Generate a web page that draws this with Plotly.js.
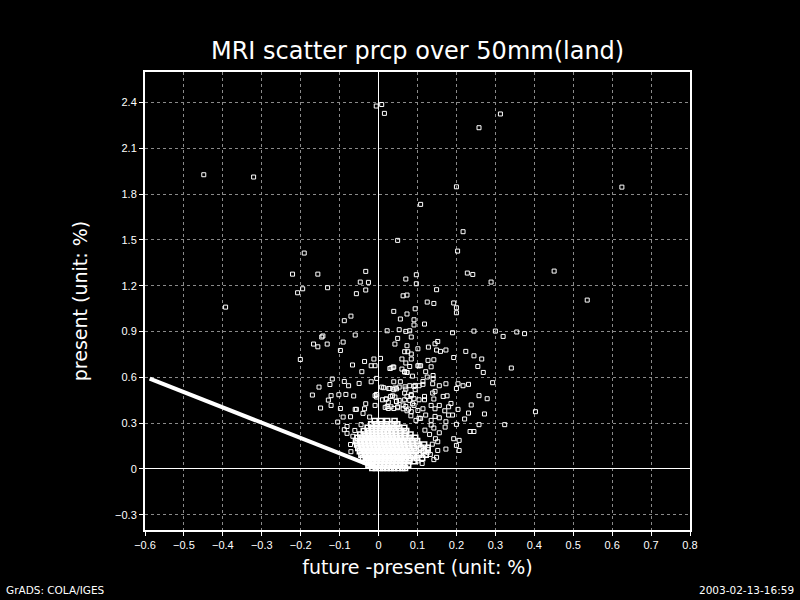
<!DOCTYPE html>
<html>
<head>
<meta charset="utf-8">
<script src="https://cdn.plot.ly/plotly-3.0.1.min.js"></script>
<style>html,body{margin:0;padding:0;background:#000;}#chart{width:800px;height:600px;}</style>
</head>
<body>
<div id="chart"></div>
<script>
// Scattered points (future - present, present)
var scatterX = [-0.449,-0.321,-0.006,0.008,0.015,0.049,-0.191,0.313,0.258,0.200,0.625,0.108,0.217,0.203,
-0.221,-0.156,-0.033,-0.047,-0.026,-0.208,-0.195,-0.131,-0.033,-0.057,-0.393,0.070,0.097,0.063,0.073,0.039,0.073,0.094,0.056,0.091,-0.088,-0.071,-0.060,0.022,0.053,0.070,0.080,0.091,-0.146,-0.143,-0.167,-0.156,-0.132,-0.091,-0.098,-0.201,0.049,0.073,0.067,0.075,-0.067,-0.036,-0.019,-0.009,-0.012,0.005,-0.043,-0.119,-0.088,-0.077,-0.050,-0.125,-0.153,-0.170,-0.102,-0.084,-0.064,-0.122,-0.129,-0.122,-0.149,-0.098,-0.091,-0.105,-0.060,-0.081,-0.071,-0.019,-0.005,
0.228,0.242,0.451,0.289,0.097,0.149,0.536,0.125,0.142,0.193,0.200,0.200,0.118,0.190,0.245,0.300,0.320,0.355,0.375,0.084,0.042,0.101,0.128,0.145,0.152,0.149,0.159,0.173,0.084,0.224,0.245,0.265,0.193,0.084,0.255,0.269,0.341,0.032,0.039,0.135,0.127,0.142,0.104,0.293,0.204,0.217,0.231,0.173,0.156,0.200,0.258,0.279,0.238,0.204,0.403,0.272,0.231,0.324,0.258,0.221,0.200,0.235,0.245,0.207,0.193,0.200,0.207,0.173,0.133,0.128,0.101,0.180,0.180,0.170,0.166,0.176,0.186,0.156,0.145,0.135,0.171,0.156,0.152,
0.060,0.070,0.067,0.073,0.087,0.101,0.108,0.121,0.125,0.140,0.140,0.114,0.114,0.139,0.104,0.080,0.091,0.068,0.039,0.046,0.029,0.008,-0.009,-0.005,0.010,0.019,0.031,0.036,0.046,0.053,0.067,0.080,0.084,0.091,0.104,0.118,0.118,0.139,0.145,0.135,0.142,0.022,0.025,0.039,0.049,0.063,0.070,0.077,0.084,0.101,0.114,0.121,0.145,0.156,0.173,0.190,0.108,0.135,0.142,
0.029,0.037,0.060,0.067,0.073,0.080,0.039,0.056,0.013,0.026,0.042,0.053,0.070,0.094,0.094,-0.005,-0.005,0.020,0.025,0.042,0.046,0.067,0.073,0.084,0.091,0.017,0.032,0.049,0.063,0.073,0.087,-0.033,-0.036,-0.009,-0.040,-0.023,-0.057,-0.072,-0.081,-0.088,
0.138,0.146,0.152,0.131,0.142,0.127,0.149,0.112,0.119,-0.066,-0.072,-0.061,-0.045,0.096,0.104,0.083];
var scatterY = [1.927,1.912,2.377,2.387,2.329,1.497,1.414,2.325,2.235,1.848,1.846,1.733,1.554,1.427,
1.276,1.276,1.294,1.224,1.222,1.154,1.180,1.187,1.172,1.148,1.060,1.244,1.272,1.134,1.139,1.032,1.015,1.049,0.982,0.977,0.971,1.001,0.877,0.905,0.912,0.901,0.905,0.943,0.864,0.871,0.818,0.800,0.818,0.831,0.776,0.717,0.855,0.807,0.768,0.768,0.681,0.704,0.676,0.676,0.720,0.724,0.637,0.589,0.573,0.545,0.560,0.553,0.536,0.484,0.486,0.488,0.478,0.480,0.451,0.416,0.399,0.396,0.340,0.307,0.390,0.233,0.113,0.571,0.593,
1.283,1.274,1.296,1.224,1.213,1.174,1.106,1.093,1.084,1.087,1.056,1.023,0.949,0.892,0.903,0.903,0.868,0.897,0.886,0.864,0.818,0.787,0.798,0.820,0.835,0.779,0.770,0.779,0.753,0.770,0.741,0.720,0.730,0.720,0.671,0.632,0.661,0.661,0.667,0.669,0.711,0.715,0.676,0.565,0.558,0.545,0.554,0.558,0.545,0.527,0.480,0.460,0.419,0.390,0.375,0.360,0.366,0.290,0.290,0.327,0.292,0.245,0.245,0.187,0.198,0.154,0.121,0.130,0.095,0.126,0.052,0.407,0.353,0.381,0.475,0.479,0.429,0.416,0.394,0.318,0.274,0.237,0.178,
0.720,0.694,0.637,0.632,0.608,0.676,0.676,0.637,0.602,0.612,0.591,0.573,0.554,0.558,0.545,0.545,0.541,0.538,0.519,0.525,0.527,0.536,0.480,0.486,0.453,0.458,0.475,0.479,0.442,0.449,0.453,0.449,0.480,0.416,0.453,0.475,0.453,0.497,0.508,0.416,0.458,0.409,0.396,0.396,0.401,0.419,0.409,0.392,0.375,0.383,0.394,0.353,0.344,0.335,0.309,0.353,0.331,0.288,0.268,
0.658,0.667,0.654,0.635,0.632,0.671,0.571,0.571,0.532,0.527,0.530,0.536,0.523,0.547,0.519,0.488,0.471,0.458,0.438,0.471,0.442,0.497,0.475,0.488,0.460,0.403,0.407,0.407,0.394,0.381,0.427,0.427,0.394,0.416,0.364,0.340,0.390,0.342,0.278,0.257,
0.162,0.198,0.121,0.226,0.061,0.110,0.076,0.036,0.254,0.214,0.160,0.252,0.290,0.318,0.332,0.348];

// Dense cluster near the origin, read row by row
var clusterRowY = [0.006,0.028,0.050,0.072,0.094,0.116,0.138,0.160,0.182,0.204,0.226,0.248,0.270,0.292,0.314];
var clusterRowX = [
 [-0.016,-0.007,0.003,0.012,0.021,0.031,0.040,0.050,0.061,0.068],
 [-0.026,-0.016,-0.006,0.004,0.014,0.024,0.034,0.044,0.055,0.064,0.076],
 [-0.033,-0.024,-0.014,-0.004,0.006,0.016,0.026,0.036,0.046,0.056,0.066,0.078,0.092],
 [-0.040,-0.030,-0.020,-0.010,0.000,0.010,0.020,0.030,0.040,0.050,0.060,0.070,0.081,0.098,0.112],
 [-0.044,-0.034,-0.024,-0.014,-0.004,0.006,0.016,0.026,0.036,0.046,0.056,0.066,0.076,0.088,0.104,0.121],
 [-0.048,-0.038,-0.028,-0.018,-0.008,0.002,0.012,0.022,0.032,0.042,0.052,0.062,0.072,0.083,0.096,0.116],
 [-0.052,-0.042,-0.032,-0.022,-0.012,-0.002,0.008,0.018,0.028,0.038,0.048,0.058,0.068,0.079,0.091,0.109,0.126],
 [-0.055,-0.045,-0.035,-0.025,-0.015,-0.005,0.005,0.015,0.025,0.035,0.045,0.055,0.065,0.076,0.087,0.101,0.117],
 [-0.058,-0.047,-0.037,-0.027,-0.017,-0.007,0.003,0.013,0.023,0.033,0.043,0.053,0.063,0.074,0.086,0.099],
 [-0.054,-0.043,-0.033,-0.023,-0.013,-0.003,0.007,0.017,0.027,0.037,0.047,0.057,0.068,0.080,0.094],
 [-0.047,-0.036,-0.026,-0.016,-0.006,0.004,0.014,0.024,0.034,0.044,0.055,0.067,0.082],
 [-0.038,-0.027,-0.017,-0.007,0.003,0.013,0.023,0.033,0.044,0.056,0.071],
 [-0.028,-0.017,-0.006,0.005,0.016,0.027,0.039,0.052,0.066],
 [-0.019,-0.006,0.008,0.021,0.034,0.048],
 [-0.010,0.006,0.022,0.041]
];

// Points where future is zero (they line up on present = -(future-present))
var edgeX = [-0.588,-0.55,-0.50,-0.45,-0.40,-0.35,-0.30,-0.25,-0.20,-0.15,-0.10,-0.05,-0.02,0.0];
var edgeY = [0.591,0.553,0.503,0.452,0.402,0.352,0.302,0.252,0.201,0.151,0.101,0.051,0.021,0.002];

var titleText = "MRI scatter prcp over 50mm(land)";
var xTitle = "future -present (unit: %)";
var yTitle = "present (unit: %)";
var footLeft = "GrADS: COLA/IGES";
var footRight = "2003-02-13-16:59";

var cx = [], cy = [];
for (var i = 0; i < clusterRowY.length; i++) {
  for (var j = 0; j < clusterRowX[i].length; j++) {
    cx.push(clusterRowX[i][j]);
    cy.push(clusterRowY[i]);
  }
}

var mk = {symbol: 'square-open', size: 4, color: '#ffffff', line: {color: '#ffffff', width: 1}};
var traces = [
  {x: edgeX, y: edgeY, type: 'scatter', mode: 'lines', line: {color: '#ffffff', width: 4}, hoverinfo: 'skip'},
  {x: cx, y: cy, type: 'scatter', mode: 'markers', marker: {symbol: 'square-open', size: 5, color: '#ffffff', line: {color: '#ffffff', width: 1.6}}, hoverinfo: 'skip'},
  {x: scatterX, y: scatterY, type: 'scatter', mode: 'markers', marker: mk, hoverinfo: 'skip'}
];

var axisCommon = {
  showline: true, linecolor: '#ffffff', linewidth: 2, mirror: true,
  ticks: 'outside', ticklen: 4, tickcolor: '#ffffff', tickwidth: 1,
  showgrid: true, gridcolor: '#8a8a8a', gridwidth: 1, griddash: 'dot',
  zeroline: true, zerolinecolor: '#ffffff', zerolinewidth: 1,
  tickfont: {family: 'Liberation Sans, Arial, sans-serif', size: 11, color: '#ffffff'},
  automargin: false
};

var layout = {
  width: 800, height: 600,
  paper_bgcolor: '#000000', plot_bgcolor: '#000000',
  margin: {l: 145, r: 110, t: 72, b: 70},
  showlegend: false,
  title: {text: titleText, x: 0.522, xanchor: 'center', y: 0.915, yanchor: 'middle', yref: 'container',
          font: {family: 'DejaVu Sans, sans-serif', size: 24, color: '#ffffff'}},
  xaxis: Object.assign({}, axisCommon, {
    range: [-0.6, 0.8], tick0: 0, dtick: 0.1,
    title: {text: xTitle, standoff: 10, font: {family: 'DejaVu Sans, sans-serif', size: 19, color: '#ffffff'}}
  }),
  yaxis: Object.assign({}, axisCommon, {
    range: [-0.4, 2.6], tick0: 0, dtick: 0.3,
    title: {text: yTitle, standoff: 22, font: {family: 'DejaVu Sans, sans-serif', size: 19, color: '#ffffff'}}
  }),
  annotations: [
    {text: footLeft, xref: 'paper', yref: 'paper', x: -141/545, y: -60/458, xanchor: 'left', yanchor: 'middle',
     showarrow: false, font: {family: 'DejaVu Sans, sans-serif', size: 10.5, color: '#ffffff'}},
    {text: footRight, xref: 'paper', yref: 'paper', x: (545+106)/545, y: -60/458, xanchor: 'right', yanchor: 'middle',
     showarrow: false, font: {family: 'DejaVu Sans, sans-serif', size: 10.5, color: '#ffffff'}}
  ]
};

Plotly.newPlot('chart', traces, layout, {staticPlot: true, displayModeBar: false});
</script>
</body>
</html>
